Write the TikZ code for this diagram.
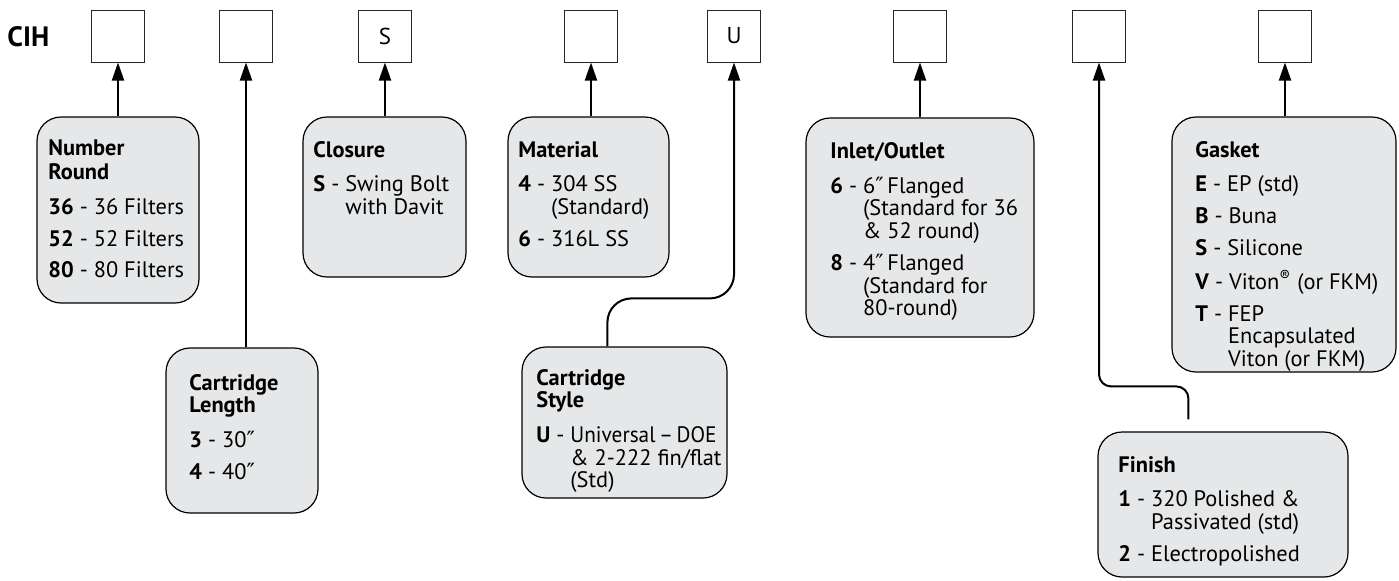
\documentclass[tikz,border=0pt]{standalone}
\usepackage{fontspec}
\setmainfont{PT Sans}
\newfontfamily\primefont{DejaVu Sans}
\usepackage{xcolor}
\usetikzlibrary{arrows.meta, positioning, fit}
\definecolor{panelgray}{RGB}{230,231,232}

\begin{document}
\begin{tikzpicture}[x=0.5pt, y=-0.5pt,
    >={Triangle[length=9pt, width=6pt]},
    codebox/.style={draw=black!85, line width=0.5pt, minimum width=26.5pt, minimum height=26pt, inner sep=0pt, font=\fontsize{11.5}{12}\selectfont},
    panel/.style={draw, line width=0.6pt, rounded corners=12pt, fill=panelgray, inner sep=0pt},
    paneltext/.style={anchor=base west, inner sep=0pt, font=\fontsize{11.2}{11.2}\selectfont},
    link/.style={->, line width=1pt},
]
\useasboundingbox (0,0) rectangle (1399,580);
% code boxes
\node[anchor=west, inner sep=0pt, font=\fontsize{14}{15}\selectfont\bfseries] (cih) at (7,37) {CIH};
\node[codebox] (b1) at (118,36) {}; \node[codebox] (b2) at (246,36) {};
\node[codebox] (b3) at (385,36) {S}; \node[codebox] (b4) at (591,36) {};
\node[codebox] (b5) at (734,36) {U}; \node[codebox] (b6) at (920,36) {};
\node[codebox] (b7) at (1099,36) {}; \node[codebox] (b8) at (1285,36) {};
% option panels
\node[panel, fit={(37,117) (199,303)}] (round) {};
\node[paneltext] at (48,155) {\begin{tabular}[t]{@{}l@{}}\textbf{Number}\\[1pt]\textbf{Round}\\[6pt]\textbf{36} - 36 Filters\\[4.5pt]\textbf{52} - 52 Filters\\[4.5pt]\textbf{80} - 80 Filters\end{tabular}};
\node[panel, fit={(166,348) (318,513)}] (len) {};
\node[paneltext] at (189,390) {\begin{tabular}[t]{@{}l@{}}\textbf{Cartridge}\\\textbf{Length}\\[6pt]\textbf{3} - 30{\primefont ″}\\[4.5pt]\textbf{4} - 40{\primefont ″}\end{tabular}};
\node[panel, fit={(303,117) (466,277)}] (clo) {};
\node[paneltext] at (313,157) {\begin{tabular}[t]{@{}l@{}}\textbf{Closure}\\[6pt]\textbf{S} - Swing Bolt\\\phantom{\textbf{S} - }with Davit\end{tabular}};
\node[panel, fit={(508,117) (669,277)}] (mat) {};
\node[paneltext] at (518,157) {\begin{tabular}[t]{@{}l@{}}\textbf{Material}\\[6pt]\textbf{4} - 304 SS\\\phantom{\textbf{4} - }(Standard)\\[4.5pt]\textbf{6} - 316L SS\end{tabular}};
\node[panel, fit={(522,347) (727,498)}] (sty) {};
\node[paneltext] at (536,385) {\begin{tabular}[t]{@{}l@{}}\textbf{Cartridge}\\\textbf{Style}\\[6pt]\textbf{U} - \scalebox{0.95}[1]{Universal\,--\,DOE}\\\phantom{\textbf{U} - }\& 2-222 fin/flat\\\phantom{\textbf{U} - }(Std)\end{tabular}};
\node[panel, fit={(806,118) (1034,337)}] (inl) {};
\node[paneltext] at (830,158) {\begin{tabular}[t]{@{}l@{}}\textbf{Inlet/Outlet}\\[6pt]\textbf{6} - 6{\primefont ″}\,Flanged\\\phantom{\textbf{6} - }(Standard for 36\\\phantom{\textbf{6} - }\& 52 round)\\[4.5pt]\textbf{8} - 4{\primefont ″}\,Flanged\\\phantom{\textbf{8} - }(Standard for\\\phantom{\textbf{8} - }80-round)\end{tabular}};
\node[panel, fit={(1172,117) (1396,372)}] (gas) {};
\node[paneltext] at (1195,157) {\begin{tabular}[t]{@{}l@{}}\textbf{Gasket}\\[6pt]\textbf{E} - EP (std)\\[4.5pt]\textbf{B} - Buna\\[4.5pt]\textbf{S} - Silicone\\[4.5pt]\textbf{V} - Viton\textsuperscript{®} (or FKM)\\[4.5pt]\textbf{T} - FEP\\\phantom{\textbf{T} - }Encapsulated\\\phantom{\textbf{T} - }Viton (or FKM)\end{tabular}};
\node[panel, fit={(1098,432) (1348,577)}] (fin) {};
\node[paneltext] at (1118,472) {\begin{tabular}[t]{@{}l@{}}\textbf{Finish}\\[6pt]\textbf{1} - 320 Polished \&\\\phantom{\textbf{1} - }Passivated (std)\\[4.5pt]\textbf{2} - Electropolished\end{tabular}};
% pointers
\draw[link] (round.north -| b1.south) -- (b1.south);
\draw[link] (len.north -| b2.south) -- (b2.south);
\draw[link] (clo.north -| b3.south) -- (b3.south);
\draw[link] (mat.north -| b4.south) -- (b4.south);
\draw[link, rounded corners=12pt] ([xshift=43pt]sty.north west) -- ++(0,-48) -| (b5.south);
\draw[link] (inl.north -| b6.south) -- (b6.south);
\draw[link, rounded corners=6pt] ([xshift=45.5pt, yshift=6pt]fin.north west) -- ++(0,-33) -| (b7.south);
\draw[link] (gas.north -| b8.south) -- (b8.south);
\end{tikzpicture}
\end{document}
